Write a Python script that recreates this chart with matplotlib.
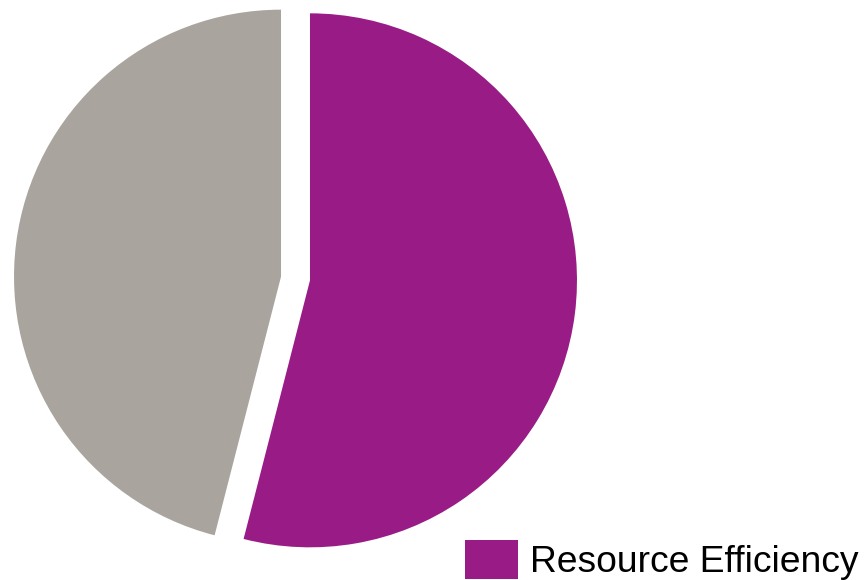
import matplotlib
matplotlib.use('Agg')
import matplotlib.pyplot as plt

labels = ['Resource Efficiency', 'Other']
shares = [54, 46]
colors = ['#991C86', '#A9A49E']

plt.rcParams['font.family'] = ['Liberation Sans', 'DejaVu Sans']

fig = plt.figure(figsize=(8.64, 5.80), dpi=100)
ax = fig.add_axes([0, 0, 1, 1])

# axes units are pixels here, so explode is in pixels too
wedges, _ = ax.pie(shares, colors=colors, startangle=90, counterclock=False,
                   explode=[14.6, 14.6], radius=267,
                   center=(295.5, 580 - 278.5),
                   wedgeprops=dict(linewidth=0))
ax.set_xlim(0, 864)
ax.set_ylim(0, 580)
ax.set_aspect('equal')
ax.axis('off')

fig.legend([wedges[0]], [labels[0]], loc='lower right',
           bbox_to_anchor=(859 / 864, 0 / 580), frameon=False,
           fontsize=26.8, handlelength=1.44, handleheight=1.25,
           handletextpad=0.33, borderpad=0, borderaxespad=0)

fig.savefig('out.png', dpi=100)
